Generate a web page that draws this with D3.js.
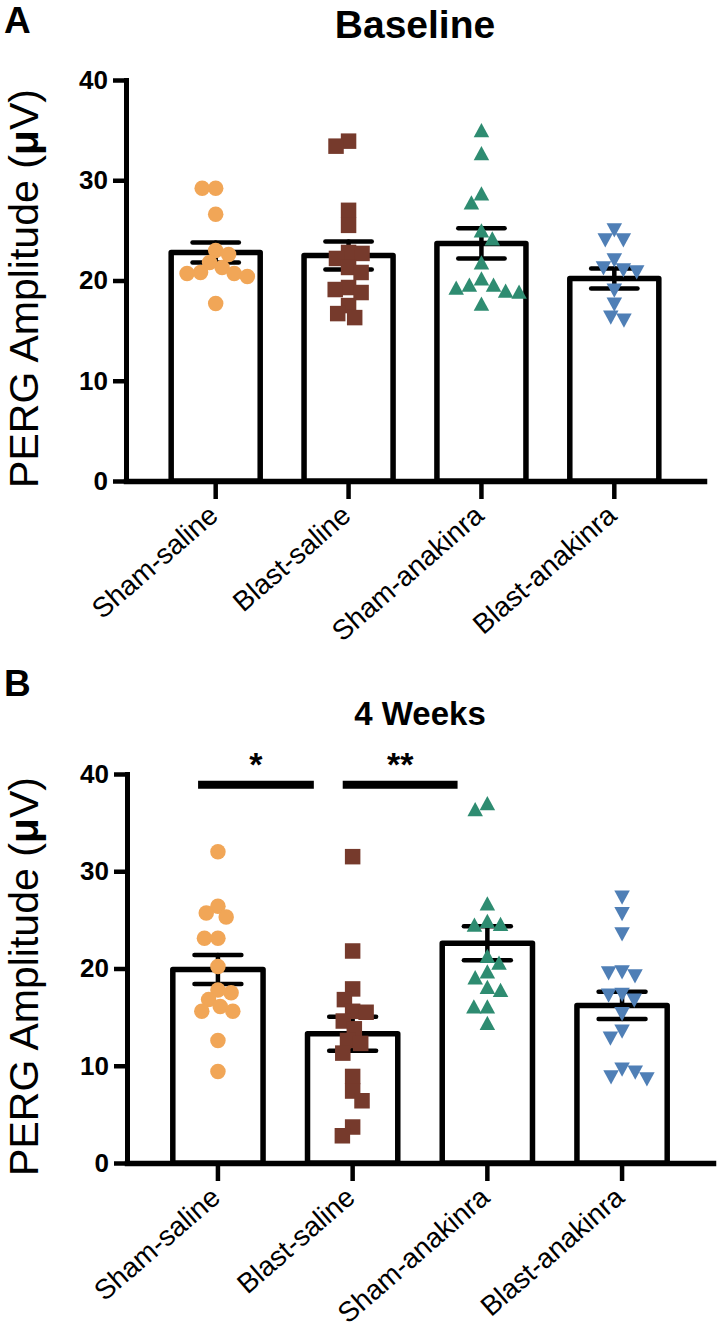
<!DOCTYPE html>
<html>
<head>
<meta charset="utf-8">
<script src="https://cdn.jsdelivr.net/npm/d3@7"></script>
<style>
  html, body { margin: 0; padding: 0; background: #fff; }
  svg { display: block; }
  text { font-family: "Liberation Sans", Arial, Helvetica, sans-serif; fill: #000; }
</style>
</head>
<body>
<svg id="chart" width="720" height="1331"></svg>
<script>
// ---------------- DATA ----------------
const categories = ["Sham-saline", "Blast-saline", "Sham-anakinra", "Blast-anakinra"];
const yTicks = [0, 10, 20, 30, 40];

// Panel A: Baseline
const baselineShamSaline = [29.2, 29.2, 26.6, 23.0, 22.6, 21.8, 21.3, 20.8, 20.7, 20.7, 20.4, 17.7];
const baselineBlastSaline = [33.9, 33.4, 27.0, 25.5, 22.8, 22.7, 22.2, 21.3, 20.8, 19.3, 19.1, 18.8, 17.5, 16.7, 16.3];
const baselineShamAnakinra = [35.0, 32.7, 28.7, 27.8, 25.0, 24.2, 21.8, 20.2, 19.6, 19.6, 19.3, 19.0, 18.9, 17.7];
const baselineBlastAnakinra = [25.0, 24.0, 24.0, 22.0, 21.2, 21.0, 20.8, 19.0, 17.6, 16.3, 16.0];
const baselineMeans = [22.8, 22.5, 23.7, 20.2];
const baselineSems = [1.0, 1.4, 1.5, 1.0];

// Panel B: 4 Weeks
const weeksShamSaline = [32.0, 26.4, 25.7, 25.3, 23.1, 23.1, 20.2, 17.8, 17.5, 16.8, 16.1, 15.6, 15.6, 12.6, 9.4];
const weeksBlastSaline = [31.5, 21.8, 17.9, 16.8, 15.6, 15.5, 14.6, 13.8, 12.6, 12.3, 11.3, 8.9, 7.4, 6.4, 3.7, 2.8];
const weeksShamAnakinra = [37.0, 36.4, 26.7, 24.9, 24.6, 24.5, 21.3, 20.6, 19.7, 19.1, 18.1, 17.8, 16.1, 16.1, 14.4];
const weeksBlastAnakinra = [27.3, 25.6, 23.5, 19.6, 19.5, 19.2, 17.3, 17.2, 16.7, 15.3, 13.5, 12.8, 9.6, 9.3, 8.8, 8.6];
const weeksMeans = [19.9, 13.3, 22.6, 16.2];
const weeksSems = [1.5, 1.75, 1.75, 1.4];

// significance comparisons (panel B)
const sigFrom = ["Sham-saline", "Blast-saline"];
const sigTo = ["Blast-saline", "Sham-anakinra"];
const sigLabels = ["*", "**"];
const sigLevel = 38.9;

// ---------------- STYLE / LAYOUT ----------------
const colors = ["#F1A657", "#763A2C", "#2E8C71", "#4F7FB6"];
const shapes = ["circle", "square", "triangle", "triangleDown"];
const FONT = '"Liberation Sans", Arial, Helvetica, sans-serif';

const svg = d3.select("#chart");

function symbolPath(shape, s) {
  const h = s / 2;
  if (shape === "square") return `M${-h},${-h}H${h}V${h}H${-h}Z`;
  if (shape === "triangle") { const th = s * 0.92; return `M0,${-th/2}L${h},${th/2}L${-h},${th/2}Z`; }
  if (shape === "triangleDown") { const th = s * 0.92; return `M0,${th/2}L${h},${-th/2}L${-h},${-th/2}Z`; }
  return null;
}

// beeswarm layout (deterministic) computed from values
function swarm(values, yScale, D) {
  const order = values.map((v, i) => i).sort((a, b) => values[b] - values[a]);
  const placed = [];
  const out = new Array(values.length);
  let left = 0, right = 0;
  order.forEach(i => {
    const y = yScale(values[i]);
    const ints = [];
    placed.forEach(q => {
      const dy = Math.abs(q.y - y);
      if (dy < D) { const dx = Math.sqrt(D * D - dy * dy); ints.push([q.x - dx, q.x + dx]); }
    });
    const cands = [0];
    ints.forEach(iv => { cands.push(iv[0], iv[1]); });
    const ok = cands.filter(c => ints.every(iv => c <= iv[0] + 1e-6 || c >= iv[1] - 1e-6));
    ok.sort((a, b) => {
      const d = Math.abs(a) - Math.abs(b);
      if (Math.abs(d) > 0.5) return d;
      const pa = a < 0 ? (left <= right ? 0 : 1) : (right < left ? 0 : 1);
      const pb = b < 0 ? (left <= right ? 0 : 1) : (right < left ? 0 : 1);
      return pa - pb;
    });
    const x = ok[0];
    if (x < -0.5) left++; else if (x > 0.5) right++;
    placed.push({ x, y });
    out[i] = { x, y };
  });
  return out;
}

function drawPanel(cfg) {
  const g = svg.append("g");
  const y = d3.scaleLinear().domain([0, 40]).range([cfg.y0, cfg.y40]);
  const x = d3.scaleBand().domain(categories).range(cfg.xRange).paddingInner(0.33).paddingOuter(0.34);
  const bw = x.bandwidth();

  // panel letter
  g.append("text").attr("x", 4).attr("y", cfg.letterY)
    .style("font-size", "37px").style("font-weight", "bold").text(cfg.letter);
  // title
  g.append("text").attr("x", (cfg.xRange[0] + cfg.xRange[1]) / 2).attr("y", cfg.titleY)
    .attr("text-anchor", "middle").style("font-size", cfg.titleSize + "px").style("font-weight", "bold")
    .text(cfg.title);

  // y axis
  const yAxis = g.append("g").attr("transform", `translate(${cfg.xRange[0]},0)`)
    .call(d3.axisLeft(y).tickValues(yTicks).tickSize(13).tickSizeOuter(0).tickPadding(5));
  yAxis.select(".domain").attr("stroke", "#000").attr("stroke-width", 5).attr("stroke-linecap", "square");
  yAxis.selectAll(".tick line").attr("stroke", "#000").attr("stroke-width", 4.5);
  yAxis.selectAll(".tick text").style("font-family", FONT).style("font-size", "26px")
    .style("font-weight", "bold").attr("fill", "#000");

  // x axis
  const xAxis = g.append("g").attr("transform", `translate(0,${cfg.y0})`)
    .call(d3.axisBottom(x).tickSize(18).tickSizeOuter(0).tickPadding(0));
  xAxis.select(".domain").attr("stroke", "#000").attr("stroke-width", 5.5).attr("stroke-linecap", "square");
  xAxis.selectAll(".tick line").attr("stroke", "#000").attr("stroke-width", 4.5);
  xAxis.selectAll(".tick text")
    .attr("x", 0).attr("y", 0).attr("dy", 0)
    .attr("transform", "translate(4,37) rotate(-41)")
    .style("text-anchor", "end").style("font-family", FONT).style("font-size", "28px")
    .attr("fill", "#000");

  // y axis label
  const lab = g.append("text")
    .attr("transform", `translate(${cfg.labelX},${(cfg.y0 + cfg.y40) / 2 + 8}) rotate(-90)`)
    .attr("text-anchor", "middle").style("font-size", "41px");
  lab.append("tspan").text("PERG Amplitude (");
  lab.append("tspan").style("font-weight", "bold").text("\u03BC");
  lab.append("tspan").text("V)");

  // bars
  g.append("g").selectAll("rect").data(categories).join("rect")
    .attr("x", d => x(d)).attr("width", bw)
    .attr("y", (d, i) => y(cfg.means[i]))
    .attr("height", (d, i) => y(0) - y(cfg.means[i]))
    .attr("fill", "#fff").attr("stroke", "#000").attr("stroke-width", 5.5)
    .attr("stroke-linejoin", "round");

  // error bars
  const eb = g.append("g").attr("stroke", "#000").attr("stroke-width", 4.5).attr("stroke-linecap", "round");
  categories.forEach((c, i) => {
    const cx = x(c) + bw / 2, m = cfg.means[i], s = cfg.sems[i];
    const cw = bw * 0.26;
    eb.append("line").attr("x1", cx).attr("x2", cx).attr("y1", y(m + s)).attr("y2", y(m - s));
    eb.append("line").attr("x1", cx - cw).attr("x2", cx + cw).attr("y1", y(m + s)).attr("y2", y(m + s));
    eb.append("line").attr("x1", cx - cw).attr("x2", cx + cw).attr("y1", y(m - s)).attr("y2", y(m - s));
  });

  // points
  const sz = 15.5;
  categories.forEach((c, i) => {
    const vals = cfg.points[i];
    const pos = swarm(vals, y, 13.5);
    const cx = x(c) + bw / 2;
    const gg = g.append("g").attr("fill", colors[i]);
    vals.forEach((v, k) => {
      const px = cx + pos[k].x, py = y(v);
      if (shapes[i] === "circle") {
        gg.append("circle").attr("cx", px).attr("cy", py).attr("r", sz / 2);
      } else {
        gg.append("path").attr("transform", `translate(${px},${py})`).attr("d", symbolPath(shapes[i], sz));
      }
    });
  });

  // significance bars
  if (cfg.sig) {
    const offs = [[0.28, 0.07], [0.39, 0.17]];
    sigFrom.forEach((f, k) => {
      const x1 = x(f) + bw * offs[k][0], x2 = x(sigTo[k]) + bw * offs[k][1];
      const yy = y(sigLevel);
      g.append("line").attr("x1", x1).attr("x2", x2).attr("y1", yy).attr("y2", yy)
        .attr("stroke", "#000").attr("stroke-width", 8);
      g.append("text").attr("x", (x1 + x2) / 2).attr("y", yy - 9)
        .attr("text-anchor", "middle").style("font-size", "34px").style("font-weight", "bold")
        .text(sigLabels[k]);
    });
  }
}

drawPanel({
  letter: "A", letterY: 33, title: "Baseline", titleY: 38, titleSize: 39,
  y0: 481, y40: 80, xRange: [126, 704], labelX: 38,
  means: baselineMeans, sems: baselineSems,
  points: [baselineShamSaline, baselineBlastSaline, baselineShamAnakinra, baselineBlastAnakinra]
});
drawPanel({
  letter: "B", letterY: 696, title: "4 Weeks", titleY: 725, titleSize: 33,
  y0: 1163, y40: 774, xRange: [127, 713], labelX: 38,
  means: weeksMeans, sems: weeksSems, sig: true,
  points: [weeksShamSaline, weeksBlastSaline, weeksShamAnakinra, weeksBlastAnakinra]
});
</script>
</body>
</html>
